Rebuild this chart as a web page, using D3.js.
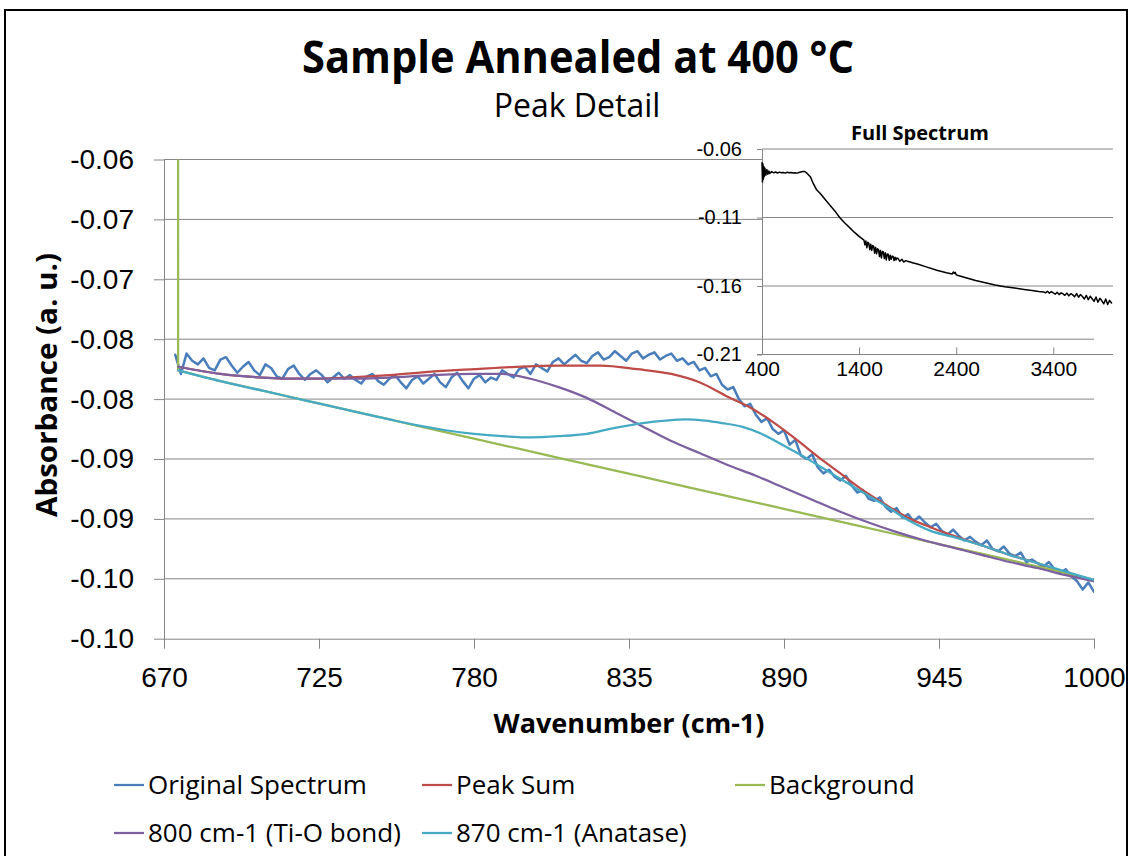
<!DOCTYPE html>
<html lang="en">
<head>
<meta charset="UTF-8">
<title>Sample Annealed at 400 °C</title>
<script src="https://cdn.jsdelivr.net/npm/d3@7"></script>
<style>
	body { margin: 0; background: #fff; }
	text { font-family: "Open Sans", sans-serif; fill: #000; }
	.grid { stroke: #868686; stroke-width: 1; }
	.axis path, .axis line { stroke: #868686; }
	.series { fill: none; stroke-linejoin: round; stroke-linecap: round; }
</style>
</head>
<body>
<script>

// ---- main chart (peak detail) ----
var wavenumberTicks = [670, 725, 780, 835, 890, 945, 1000];
var absorbanceTicks = [-0.06, -0.065, -0.07, -0.075, -0.08, -0.085, -0.09, -0.095, -0.10];
var absorbanceTickLabels = ['-0.06', '-0.07', '-0.07', '-0.08', '-0.08', '-0.09', '-0.09', '-0.10', '-0.10'];

var seriesNames = ['Original Spectrum', 'Peak Sum', 'Background', '800 cm-1 (Ti-O bond)', '870 cm-1 (Anatase)'];

// measured spectrum: [wavenumber, absorbance]
var spectrumPoints = [
	[674, -0.0763], [676, -0.0779], [678, -0.0762], [680, -0.0768], [682, -0.0771], [684, -0.0766], [686, -0.0774],
	[688, -0.0776], [690, -0.0767], [692, -0.0765], [694, -0.0772], [696, -0.0778], [698, -0.0773], [700, -0.0769],
	[702, -0.0776], [704, -0.0780], [706, -0.0771], [708, -0.0774], [710, -0.0781], [712, -0.0783], [714, -0.0775],
	[716, -0.0772], [718, -0.0779], [720, -0.0784], [722, -0.0779], [724, -0.0776], [726, -0.0780], [728, -0.0786],
	[730, -0.0782], [732, -0.0778], [734, -0.0783], [736, -0.0780], [738, -0.0784], [740, -0.0787], [742, -0.0781],
	[744, -0.0779], [746, -0.0785], [748, -0.0788], [750, -0.0783], [752, -0.0780], [754, -0.0786], [756, -0.0791],
	[758, -0.0784], [760, -0.0781], [762, -0.0787], [764, -0.0783], [766, -0.0779], [768, -0.0786], [770, -0.0790],
	[772, -0.0782], [774, -0.0778], [776, -0.0785], [778, -0.0791], [780, -0.0783], [782, -0.0780], [784, -0.0786],
	[786, -0.0782], [788, -0.0784], [790, -0.0776], [792, -0.0779], [794, -0.0782], [796, -0.0775], [798, -0.0773],
	[800, -0.0779], [802, -0.0771], [804, -0.0774], [806, -0.0777], [808, -0.0769], [810, -0.0766], [812, -0.0771],
	[814, -0.0767], [816, -0.0763], [818, -0.0768], [820, -0.0770], [822, -0.0764], [824, -0.0761], [826, -0.0767],
	[828, -0.0765], [830, -0.0760], [832, -0.0764], [834, -0.0768], [836, -0.0762], [838, -0.0760], [840, -0.0766],
	[842, -0.0763], [844, -0.0761], [846, -0.0767], [848, -0.0764], [850, -0.0762], [852, -0.0768], [854, -0.0766],
	[856, -0.0771], [858, -0.0769], [860, -0.0776], [862, -0.0774], [864, -0.0781], [866, -0.0779], [868, -0.0788],
	[870, -0.0792], [872, -0.0790], [874, -0.0800], [876, -0.0806], [878, -0.0804], [880, -0.0813], [882, -0.0819],
	[884, -0.0816], [886, -0.0825], [888, -0.0829], [890, -0.0826], [892, -0.0838], [894, -0.0834], [896, -0.0847],
	[898, -0.0850], [900, -0.0846], [902, -0.0857], [904, -0.0862], [906, -0.0859], [908, -0.0865], [910, -0.0868],
	[912, -0.0864], [914, -0.0872], [916, -0.0878], [918, -0.0876], [920, -0.0883], [922, -0.0885], [924, -0.0882],
	[926, -0.0890], [928, -0.0894], [930, -0.0891], [932, -0.0899], [934, -0.0896], [936, -0.0902], [938, -0.0898],
	[940, -0.0903], [942, -0.0907], [944, -0.0904], [946, -0.0910], [948, -0.0913], [950, -0.0909], [952, -0.0914],
	[954, -0.0918], [956, -0.0915], [958, -0.0919], [960, -0.0922], [962, -0.0918], [964, -0.0925], [966, -0.0927],
	[968, -0.0923], [970, -0.0929], [972, -0.0931], [974, -0.0928], [976, -0.0936], [978, -0.0934], [980, -0.0937],
	[982, -0.0940], [984, -0.0936], [986, -0.0942], [988, -0.0945], [990, -0.0942], [992, -0.0948], [994, -0.0952],
	[996, -0.0959], [998, -0.0953], [1000, -0.0961]
];

var peakSumWn = [675, 690, 705, 720, 735, 750, 765, 780, 795, 810, 825, 838, 850, 860, 870, 878, 886, 894, 902, 910,
	918, 926, 934, 942, 950, 960, 970, 980, 990, 1000];
var peakSumAbs = [-0.0773, -0.0779, -0.0782, -0.0783, -0.0782, -0.0780, -0.0777, -0.0775, -0.0773, -0.0772,
	-0.0772, -0.0775, -0.0779, -0.0786, -0.0798, -0.0807, -0.0819, -0.0833, -0.0848, -0.0862,
	-0.0876, -0.0888, -0.0899, -0.0907, -0.0914, -0.0922, -0.0930, -0.0937, -0.0945, -0.0952];

var backgroundWn = [675, 675, 690, 705, 720, 735, 750, 765, 780, 795, 810, 825, 840, 855, 870, 885, 900, 915, 930, 945,
	960, 975, 990, 1000];
var backgroundAbs = [-0.0500, -0.0776, -0.0785, -0.0793, -0.0801, -0.0809, -0.0817, -0.0825, -0.0833, -0.0841,
	-0.0849, -0.0857, -0.0865, -0.0873, -0.0881, -0.0889, -0.0897, -0.0905, -0.0913, -0.0921,
	-0.0929, -0.0937, -0.0945, -0.0951];

var tioWn = [675, 690, 705, 720, 735, 750, 765, 780, 790, 800, 810, 820, 830, 840, 850, 860, 870, 880, 890, 900,
	910, 920, 930, 940, 950, 960, 970, 980, 990, 1000];
var tioAbs = [-0.0773, -0.0779, -0.0782, -0.0783, -0.0783, -0.0782, -0.0780, -0.0779, -0.0779, -0.0783,
	-0.0790, -0.0799, -0.0811, -0.0823, -0.0835, -0.0845, -0.0855, -0.0864, -0.0874, -0.0884,
	-0.0894, -0.0903, -0.0911, -0.0918, -0.0924, -0.0930, -0.0936, -0.0941, -0.0947, -0.0952];

var anataseWn = [675, 690, 705, 720, 735, 750, 760, 770, 780, 790, 800, 810, 820, 830, 840, 848, 855, 862, 868, 875,
	882, 890, 897, 904, 911, 918, 926, 934, 942, 950, 960, 970, 980, 990, 1000];
var anataseAbs = [-0.0776, -0.0785, -0.0793, -0.0801, -0.0809, -0.0817, -0.0822, -0.0826, -0.0829, -0.0831,
	-0.0832, -0.0831, -0.0829, -0.0824, -0.0820, -0.0818, -0.0817, -0.0818, -0.0820, -0.0823,
	-0.0829, -0.0839, -0.0848, -0.0858, -0.0868, -0.0878, -0.0889, -0.0901, -0.0910, -0.0915,
	-0.0922, -0.0930, -0.0937, -0.0944, -0.0951];

// ---- inset (full spectrum) ----
var fullTicks = [400, 1400, 2400, 3400];
var fullAbsTicks = [-0.06, -0.11, -0.16, -0.21];
var fullAbsTickLabels = ['-0.06', '-0.11', '-0.16', '-0.21'];

var fullWn = [400, 405, 410, 415, 420, 425, 430, 440, 450, 460, 470, 480, 500, 520, 540, 560, 580, 600, 620, 640,
	660, 680, 700, 720, 740, 760, 780, 800, 820, 840, 860, 880, 900, 930, 960, 1000, 1066, 1100, 1150, 1200,
	1250, 1300, 1350, 1400, 1450, 1460, 1470, 1480, 1490, 1500, 1510, 1520, 1530, 1540, 1550, 1560, 1570, 1580, 1590, 1600,
	1610, 1620, 1630, 1640, 1650, 1660, 1670, 1680, 1690, 1700, 1710, 1720, 1730, 1740, 1750, 1760, 1770, 1780, 1790, 1800,
	1820, 1840, 1860, 1880, 1900, 1950, 2000, 2100, 2200, 2300, 2360, 2370, 2380, 2390, 2400, 2420, 2500, 2600, 2700, 2800,
	2900, 3000, 3100, 3200, 3250, 3300, 3320, 3340, 3360, 3380, 3400, 3420, 3440, 3460, 3480, 3500, 3520, 3540, 3560, 3580,
	3600, 3620, 3640, 3660, 3680, 3700, 3720, 3740, 3760, 3780, 3800, 3820, 3840, 3860, 3880, 3900, 3920, 3940, 3960, 3980,
	4000];
var fullAbs = [-0.0700, -0.0840, -0.0710, -0.0820, -0.0730, -0.0800, -0.0740, -0.0790, -0.0750, -0.0785,
	-0.0760, -0.0778, -0.0765, -0.0774, -0.0768, -0.0775, -0.0769, -0.0773, -0.0771, -0.0776,
	-0.0770, -0.0774, -0.0772, -0.0775, -0.0773, -0.0776, -0.0772, -0.0768, -0.0764, -0.0765,
	-0.0775, -0.0790, -0.0805, -0.0855, -0.0895, -0.0925, -0.0982, -0.1010, -0.1052, -0.1100,
	-0.1138, -0.1172, -0.1207, -0.1238, -0.1265, -0.1300, -0.1272, -0.1320, -0.1280, -0.1290,
	-0.1335, -0.1295, -0.1340, -0.1305, -0.1310, -0.1360, -0.1318, -0.1365, -0.1328, -0.1335,
	-0.1385, -0.1340, -0.1395, -0.1348, -0.1352, -0.1400, -0.1358, -0.1410, -0.1366, -0.1370,
	-0.1412, -0.1375, -0.1405, -0.1382, -0.1385, -0.1415, -0.1390, -0.1410, -0.1395, -0.1398,
	-0.1420, -0.1405, -0.1425, -0.1415, -0.1420, -0.1430, -0.1440, -0.1462, -0.1485, -0.1503,
	-0.1512, -0.1498, -0.1508, -0.1500, -0.1518, -0.1524, -0.1540, -0.1560, -0.1577, -0.1593,
	-0.1605, -0.1615, -0.1625, -0.1634, -0.1640, -0.1643, -0.1650, -0.1638, -0.1652, -0.1641,
	-0.1651, -0.1660, -0.1646, -0.1663, -0.1650, -0.1658, -0.1668, -0.1652, -0.1672, -0.1656,
	-0.1665, -0.1678, -0.1655, -0.1682, -0.1662, -0.1677, -0.1695, -0.1668, -0.1700, -0.1675,
	-0.1693, -0.1712, -0.1680, -0.1718, -0.1690, -0.1708, -0.1730, -0.1695, -0.1735, -0.1705,
	-0.1724];

var colors = ['#4a7ebb', '#be4b48', '#98b954', '#7d60a0', '#46aac5'];

window.onload = function () {

	var W = 1132, H = 856;
	var svg = d3.select('body').append('svg').attr('width', W).attr('height', H);

	// outer chart border
	svg.append('rect').attr('x', 5).attr('y', 10).attr('width', 1122).attr('height', 870)
		.attr('fill', '#fff').attr('stroke', '#000').attr('stroke-width', 2);

	var plot = {left: 164, right: 1094, top: 159.5, bottom: 638.7};

	var x = d3.scaleLinear().domain([670, 1000]).range([plot.left, plot.right]);
	var y = d3.scaleLinear().domain([-0.10, -0.06]).range([plot.bottom, plot.top]);

	// horizontal gridlines
	svg.append('g').selectAll('line')
		.data(absorbanceTicks.slice(0, -1))
		.enter().append('line')
		.attr('class', 'grid')
		.attr('x1', plot.left).attr('x2', plot.right)
		.attr('y1', function (d) { return y(d); })
		.attr('y2', function (d) { return y(d); });

	var yAxis = svg.append('g')
		.attr('class', 'axis')
		.attr('transform', 'translate(' + plot.left + ',0)')
		.call(d3.axisLeft(y).tickValues(absorbanceTicks)
			.tickFormat(function (d, i) { return absorbanceTickLabels[i]; })
			.tickSize(10).tickSizeOuter(0).tickPadding(20));
	yAxis.selectAll('text').style('font-family', '"Liberation Sans", sans-serif').style('font-size', '28px');

	var xAxis = svg.append('g')
		.attr('class', 'axis')
		.attr('transform', 'translate(0,' + plot.bottom + ')')
		.call(d3.axisBottom(x).tickValues(wavenumberTicks).tickFormat(d3.format('d'))
			.tickSize(10).tickSizeOuter(0).tickPadding(18));
	xAxis.selectAll('text').style('font-family', '"Liberation Sans", sans-serif').style('font-size', '28px');

	// clip series to plot area
	svg.append('clipPath').attr('id', 'plotClip')
		.append('rect').attr('x', plot.left).attr('y', plot.top)
		.attr('width', plot.right - plot.left).attr('height', plot.bottom - plot.top);

	var series = [
		{pts: spectrumPoints, curve: d3.curveLinear, width: 2.5},
		{pts: d3.zip(peakSumWn, peakSumAbs), curve: d3.curveMonotoneX, width: 2.25},
		{pts: d3.zip(backgroundWn, backgroundAbs), curve: d3.curveLinear, width: 2.25},
		{pts: d3.zip(tioWn, tioAbs), curve: d3.curveMonotoneX, width: 2.25},
		{pts: d3.zip(anataseWn, anataseAbs), curve: d3.curveMonotoneX, width: 2.25}
	];

	var lines = svg.append('g').attr('clip-path', 'url(#plotClip)');
	series.forEach(function (s, i) {
		var line = d3.line()
			.x(function (d) { return x(d[0]); })
			.y(function (d) { return y(d[1]); })
			.curve(s.curve);
		lines.append('path')
			.attr('class', 'series')
			.attr('d', line(s.pts))
			.attr('stroke', colors[i])
			.attr('stroke-width', s.width);
	});

	// titles
	svg.append('text').attr('x', 578).attr('y', 73).attr('text-anchor', 'middle')
		.attr('textLength', 552).attr('lengthAdjust', 'spacingAndGlyphs')
		.style('font-size', '45px').style('font-weight', 'bold')
		.text('Sample Annealed at 400 °C');
	svg.append('text').attr('x', 577).attr('y', 117).attr('text-anchor', 'middle')
		.style('font-size', '32px')
		.text('Peak Detail');
	svg.append('text').attr('x', 629).attr('y', 733).attr('text-anchor', 'middle')
		.style('font-size', '27px').style('font-weight', 'bold')
		.text('Wavenumber (cm-1)');
	svg.append('text').attr('transform', 'translate(57,385) rotate(-90)').attr('text-anchor', 'middle')
		.attr('textLength', 264).attr('lengthAdjust', 'spacingAndGlyphs')
		.style('font-size', '28px').style('font-weight', 'bold')
		.text('Absorbance (a. u.)');

	// legend
	var legendCols = [114, 422, 735], legendRows = [785, 833];
	var legend = svg.append('g').selectAll('g')
		.data(seriesNames)
		.enter().append('g')
		.attr('transform', function (d, i) {
			return 'translate(' + legendCols[i % 3] + ',' + legendRows[Math.floor(i / 3)] + ')';
		});
	legend.append('line').attr('x1', 0).attr('x2', 30).attr('y1', 0).attr('y2', 0)
		.attr('stroke', function (d, i) { return colors[i]; }).attr('stroke-width', 2.25);
	legend.append('text').attr('x', 34).attr('y', 0).attr('dy', '0.35em')
		.style('font-size', '26px')
		.text(function (d) { return d; });

	// ---- inset: full spectrum ----
	var ins = {left: 762, right: 1113, top: 149, bottom: 354.5};
	var fx = d3.scaleLinear().domain([400, 4015]).range([ins.left, ins.right]);
	var fy = d3.scaleLinear().domain([-0.21, -0.06]).range([ins.bottom, ins.top]);

	svg.append('rect').attr('x', ins.left).attr('y', ins.top)
		.attr('width', ins.right - ins.left).attr('height', 338 - ins.top).attr('fill', '#fff');

	svg.append('g').selectAll('line')
		.data(fullAbsTicks.slice(0, -1))
		.enter().append('line')
		.attr('class', 'grid')
		.attr('x1', ins.left).attr('x2', ins.right)
		.attr('y1', function (d) { return fy(d); })
		.attr('y2', function (d) { return fy(d); });

	var fyAxis = svg.append('g').attr('class', 'axis')
		.attr('transform', 'translate(' + ins.left + ',0)')
		.call(d3.axisLeft(fy).tickValues(fullAbsTicks)
			.tickFormat(function (d, i) { return fullAbsTickLabels[i]; })
			.tickSize(5).tickSizeOuter(0).tickPadding(15));
	fyAxis.selectAll('text').style('font-family', '"Liberation Sans", sans-serif').style('font-size', '20px');

	var fxAxis = svg.append('g').attr('class', 'axis')
		.attr('transform', 'translate(0,' + ins.bottom + ')')
		.call(d3.axisBottom(fx).tickValues(fullTicks).tickFormat(d3.format('d'))
			.tickSizeInner(-7).tickSizeOuter(0).tickPadding(7));
	fxAxis.selectAll('text').style('font-family', '"Liberation Sans", sans-serif').style('font-size', '21px');
	fxAxis.select('.domain').attr('d', 'M' + (ins.left - 5) + ',0H' + ins.right);

	var fullLine = d3.line()
		.x(function (d) { return fx(d); })
		.y(function (d, j) { return fy(fullAbs[j]); });
	svg.append('path')
		.attr('class', 'series')
		.attr('d', fullLine(fullWn))
		.attr('stroke', '#000')
		.attr('stroke-width', 1.5);

	svg.append('text').attr('x', 920).attr('y', 140).attr('text-anchor', 'middle')
		.style('font-size', '20px').style('font-weight', 'bold')
		.text('Full Spectrum');
};
</script>
</body>
</html>
